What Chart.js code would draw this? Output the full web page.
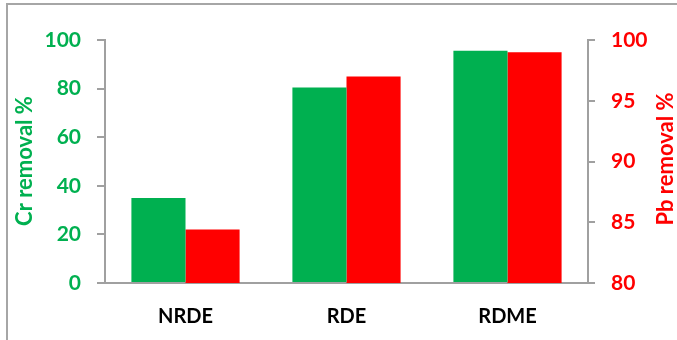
<!DOCTYPE html>
<html>
<head>
<meta charset="utf-8">
<script src="https://cdn.jsdelivr.net/npm/chart.js@4/dist/chart.umd.min.js"></script>
<style>
html,body{margin:0;padding:0;background:#fff;}
#wrap{width:677px;height:340px;position:relative;}
</style>
</head>
<body>
<div id="wrap"><canvas id="c" width="677" height="340"></canvas></div>
<script>
const categories = ['NRDE', 'RDE', 'RDME'];
const crRemoval = [35.0, 80.5, 95.6];
const pbRemoval = [84.4, 97.0, 99.0];
const crTicks = [0, 20, 40, 60, 80, 100];
const pbTicks = [80, 85, 90, 95, 100];

const GREEN = '#00B050';
const RED = '#FF0000';
const AXIS = '#a0a0a0';
const FONT = 'Lato, "Open Sans", sans-serif';

const framePlugin = {
  id: 'frame',
  beforeDraw(chart) {
    const ctx = chart.ctx;
    ctx.save();
    ctx.fillStyle = '#fff';
    ctx.fillRect(0, 0, chart.width, chart.height);
    ctx.strokeStyle = '#a6a6a6';
    ctx.lineWidth = 2;
    ctx.beginPath();
    ctx.moveTo(7, chart.height);
    ctx.lineTo(7, 4);
    ctx.lineTo(chart.width, 4);
    ctx.stroke();
    ctx.restore();
  },
  afterDraw(chart) {
    const ctx = chart.ctx;
    ctx.save();
    ctx.font = 'bold 22px ' + FONT;
    ctx.textAlign = 'center';
    ctx.textBaseline = 'middle';
    ctx.fillStyle = GREEN;
    ctx.translate(25, 161);
    ctx.rotate(-Math.PI / 2);
    ctx.fillText('Cr removal %', 0, 0);
    ctx.restore();
    ctx.save();
    ctx.font = 'bold 22px ' + FONT;
    ctx.textAlign = 'center';
    ctx.textBaseline = 'middle';
    ctx.fillStyle = RED;
    ctx.translate(666, 159);
    ctx.rotate(-Math.PI / 2);
    ctx.fillText('Pb removal %', 0, 0);
    ctx.restore();
  }
};

new Chart(document.getElementById('c'), {
  type: 'bar',
  data: {
    labels: categories,
    datasets: [
      { label: 'Cr removal %', data: crRemoval, backgroundColor: GREEN, yAxisID: 'y' },
      { label: 'Pb removal %', data: pbRemoval, backgroundColor: RED, yAxisID: 'y1' }
    ]
  },
  options: {
    responsive: false,
    animation: false,
    layout: { padding: { top: 40, left: 0, right: 0, bottom: 0 } },
    categoryPercentage: 0.672,
    barPercentage: 1.0,
    plugins: { legend: { display: false }, tooltip: { enabled: false } },
    scales: {
      x: {
        grid: { display: false, drawTicks: false },
        border: { display: true, color: AXIS, width: 2 },
        ticks: { color: '#000', font: { family: FONT, size: 20, weight: 'bold' }, padding: 22 },
        afterFit(s) { s.height = 57; }
      },
      y: {
        position: 'left',
        min: 0, max: 100,
        afterBuildTicks(s) { s.ticks = crTicks.map(v => ({ value: v })); },
        grid: { drawOnChartArea: false, drawTicks: true, tickLength: 8, color: AXIS, lineWidth: 2 },
        border: { display: true, color: AXIS, width: 2 },
        ticks: { color: GREEN, font: { family: FONT, size: 21, weight: 'bold' }, padding: 16 },
        afterFit(s) { s.width = 105; }
      },
      y1: {
        position: 'right',
        min: 80, max: 100,
        afterBuildTicks(s) { s.ticks = pbTicks.map(v => ({ value: v })); },
        grid: { drawOnChartArea: false, drawTicks: true, tickLength: 7, color: AXIS, lineWidth: 2 },
        border: { display: true, color: AXIS, width: 2 },
        ticks: { color: RED, font: { family: FONT, size: 21, weight: 'bold' }, padding: 16 },
        afterFit(s) { s.width = 89; }
      }
    }
  },
  plugins: [framePlugin]
});
</script>
</body>
</html>
